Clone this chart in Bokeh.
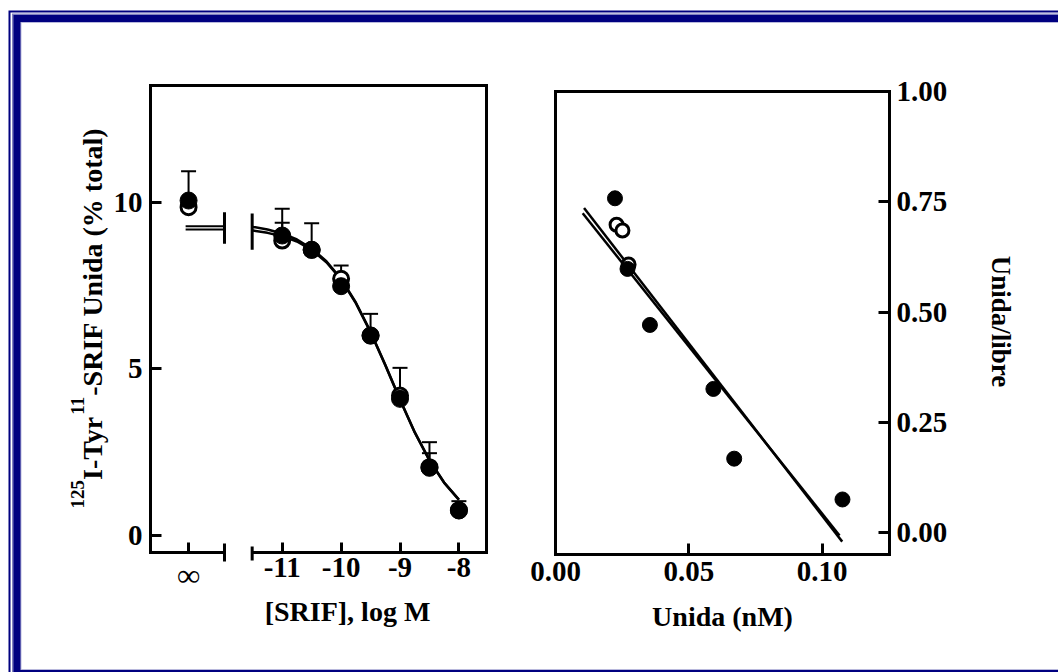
from math import pi
from bokeh.plotting import figure
from bokeh.models import Range1d, LinearAxis, FixedTicker, Label, PrintfTickFormatter
from bokeh.embed import file_html
from bokeh.resources import INLINE

# ---------------- data: left panel (competition curve) ----------------
INF_POS = -12.59                      # position used for the "infinity" (no SRIF) point
conc_x = [INF_POS, -11.0, -10.5, -10.0, -9.5, -9.0, -8.5, -8.0]
filled_y = [10.05, 9.00, 8.57, 7.48, 6.00, 4.10, 2.03, 0.75]
filled_err = [0.88, 0.80, 0.80, 0.62, 0.65, 0.93, 0.77, 0.28]
open_y = [9.85, 8.85, 8.57, 7.70, 6.00, 4.20, 2.05, 0.76]
open_err = [0.20, 0.53, 0.00, 0.00, 0.00, 0.00, 0.42, 0.00]

curve_x = [-11.5, -11.25, -11.0, -10.75, -10.5, -10.25, -10.0, -9.75,
           -9.5, -9.25, -9.0, -8.75, -8.5, -8.25, -8.0]
curve_a = [9.26, 9.18, 9.06, 8.88, 8.61, 8.23, 7.70, 6.99,
           6.11, 5.12, 4.08, 3.10, 2.26, 1.59, 1.08]
curve_b = [9.15, 9.08, 8.98, 8.82, 8.57, 8.20, 7.68, 6.97,
           6.10, 5.11, 4.07, 3.09, 2.25, 1.58, 1.07]
plateau_x = [-12.64, -11.98]
plateau_a = 9.28
plateau_b = 9.18

left_x_ticks = [-11.0, -10.0, -9.0, -8.0]
left_x_labels = ["-11", "-10", "-9", "-8"]
left_inf_tick = [INF_POS]
left_inf_label = ["\u221e"]
left_y_ticks = [0, 5, 10]
left_y_labels = ["0", "5", "10"]

# ---------------- data: right panel (Scatchard) ----------------
sc_filled_x = [0.0223, 0.0270, 0.0354, 0.0592, 0.0670, 0.1076]
sc_filled_y = [0.758, 0.598, 0.471, 0.326, 0.168, 0.0755]
sc_open_x = [0.0229, 0.0251, 0.0274]
sc_open_y = [0.698, 0.685, 0.608]
fit_f_x = [0.0107, 0.1075]
fit_f_y = [0.736, -0.020]
fit_o_x = [0.0102, 0.1065]
fit_o_y = [0.724, -0.006]

right_x_ticks = [0.0, 0.05, 0.10]
right_y_ticks = [0.0, 0.25, 0.50, 0.75, 1.00]

# ---------------- layout constants ----------------
W, H = 1058, 672
FONT = "Liberation Serif"
TICK_FS = "29px"
# left panel box (data units)
XL0, XL1, YL0, YL1 = -13.236, -7.531, -0.519, 13.501
BREAK_A, BREAK_B = -11.98, -11.51
# right panel box (data units)
XR0, XR1, YR0, YR1 = 0.0, 0.12523, -0.0492, 1.0

p = figure(width=W, height=H, x_range=Range1d(-15.783, 2.180), y_range=Range1d(-4.110, 16.051),
           x_axis_type=None, y_axis_type=None, toolbar_location=None, output_backend="svg",
           min_border=0, outline_line_color=None, title=None,
           background_fill_color="white", border_fill_color="white")
p.extra_x_ranges = {"r": Range1d(-0.20810, 0.18860), "px": Range1d(0, W)}
p.extra_y_ranges = {"r": Range1d(-0.31657, 1.20621), "px": Range1d(H, 0)}

PX = dict(x_range_name="px", y_range_name="px")
R = dict(x_range_name="r", y_range_name="r")

# ---------------- navy frame (pixel units) ----------------
NAVY = "#000080"
LIGHT = "#8080c0"
frame_layers = [
    (8.0, 10.0, 690.0, NAVY),
    (10.0, 12.0, 688.0, "white"),
    (11.5, 13.0, 686.0, LIGHT),
    (13.0, 14.5, 677.0, NAVY),
    (20.0, 21.5, 669.5, "#b8b8dc"),
    (21.0, 22.5, 668.5, "white"),
]
for left, top, bottom, col in frame_layers:
    p.quad(left=left, right=W + 20, top=top, bottom=bottom, fill_color=col, line_color=None, **PX)

# ---------------- left panel marks ----------------
up_f = [y + e for y, e in zip(filled_y, filled_err)]
up_o = [y + e for y, e in zip(open_y, open_err)]
p.segment(x0=conc_x, y0=open_y, x1=conc_x, y1=up_o, line_width=2, line_color="black")
p.segment(x0=conc_x, y0=filled_y, x1=conc_x, y1=up_f, line_width=2, line_color="black")
p.scatter(conc_x, up_o, marker="dash", size=15, line_width=2, line_color="black")
p.scatter(conc_x, up_f, marker="dash", size=15, line_width=2, line_color="black")

p.line(curve_x, curve_a, line_width=2.5, line_color="black")
p.line(curve_x, curve_b, line_width=2.5, line_color="black")
p.line(plateau_x, [plateau_a, plateau_a], line_width=2, line_color="black")
p.line(plateau_x, [plateau_b, plateau_b], line_width=2, line_color="black")
# break marks on the curve and on the x axis
p.segment(x0=[BREAK_A, BREAK_B], y0=[8.75, 8.57], x1=[BREAK_A, BREAK_B], y1=[9.70, 9.66],
          line_width=3, line_color="black")
p.segment(x0=[BREAK_A, BREAK_B], y0=[-0.78, -0.75], x1=[BREAK_A, BREAK_B], y1=[-0.24, -0.33],
          line_width=3, line_color="black")

p.scatter(conc_x, open_y, size=15, fill_color="white", line_color="black", line_width=3)
p.scatter(conc_x, filled_y, size=17, fill_color="black", line_color="black", line_width=1)

# ---------------- right panel marks ----------------
p.line(fit_f_x, fit_f_y, line_width=2.5, line_color="black", **R)
p.line(fit_o_x, fit_o_y, line_width=2.5, line_color="black", **R)
p.scatter(sc_open_x, sc_open_y, size=13, fill_color="white", line_color="black", line_width=3, **R)
p.scatter(sc_filled_x, sc_filled_y, size=15, fill_color="black", line_color="black", line_width=1, **R)


# ---------------- axes ----------------
def add_axis(side, loc, bounds, ticks=(), overrides=None, formatter=None, rng=None,
             tick_in=0, standoff=5, font=FONT, font_size=TICK_FS):
    kw = dict(x_range_name=rng, y_range_name=rng) if rng else {}
    ax = LinearAxis(fixed_location=loc, bounds=bounds, ticker=FixedTicker(ticks=list(ticks)), **kw)
    if formatter is not None:
        ax.formatter = formatter
    if overrides:
        ax.major_label_overrides = overrides
    ax.axis_line_width = 3
    ax.axis_line_color = "black"
    ax.axis_line_cap = "square"
    ax.major_tick_in = tick_in
    ax.major_tick_out = 0
    ax.major_tick_line_width = 3
    ax.major_tick_line_color = "black"
    ax.minor_tick_line_color = None
    ax.major_label_text_font = font
    ax.major_label_text_font_style = "bold"
    ax.major_label_text_font_size = font_size
    ax.major_label_text_color = "black"
    ax.major_label_standoff = standoff
    p.add_layout(ax, side)
    return ax


# left panel box
add_axis("left", XL0, (YL0, YL1), left_y_ticks, overrides=dict(zip(left_y_ticks, left_y_labels)),
         tick_in=11, standoff=8)
add_axis("right", XL1, (YL0, YL1))
add_axis("above", YL1, (XL0, XL1))
add_axis("below", YL0, (XL0, BREAK_A), left_inf_tick,
         overrides=dict(zip(left_inf_tick, left_inf_label)), tick_in=10, standoff=4,
         font_size="32px")
add_axis("below", YL0, (BREAK_B, XL1), left_x_ticks,
         overrides=dict(zip(left_x_ticks, left_x_labels)), tick_in=10, standoff=5)

# right panel box
add_axis("left", XR0, (YR0, YR1), rng="r")
add_axis("above", YR1, (XR0, XR1), rng="r")
add_axis("right", XR1, (YR0, YR1), right_y_ticks, formatter=PrintfTickFormatter(format="%.2f"),
         rng="r", tick_in=11, standoff=7)
add_axis("below", YR0, (XR0, XR1), right_x_ticks, formatter=PrintfTickFormatter(format="%.2f"),
         rng="r", tick_in=11, standoff=7)


# ---------------- texts (pixel units) ----------------
def px_label(text, x, y, size, angle=0.0, align="left", baseline="alphabetic"):
    p.add_layout(Label(x=x, y=y, text=text, angle=angle, text_align=align, text_baseline=baseline,
                       text_font=FONT, text_font_style="bold", text_font_size=size,
                       text_color="black", **PX))


# rotated y title of the left panel, with superscripts
px_label("125", 77, 508.0, "19px", angle=pi / 2)
px_label("I-Tyr", 92, 479.5, "28px", angle=pi / 2)
px_label("11", 77, 414.2, "19px", angle=pi / 2)
px_label("-SRIF Unida (% total)", 92, 395.2, "28px", angle=pi / 2)

px_label("[SRIF], log M", 347, 611, "28px", align="center")
px_label("Unida (nM)", 722, 615.5, "28px", align="center")
px_label("Unida/libre", 1000, 321, "27px", angle=-pi / 2, align="center")

open("out.html", "w").write(file_html(p, INLINE))
